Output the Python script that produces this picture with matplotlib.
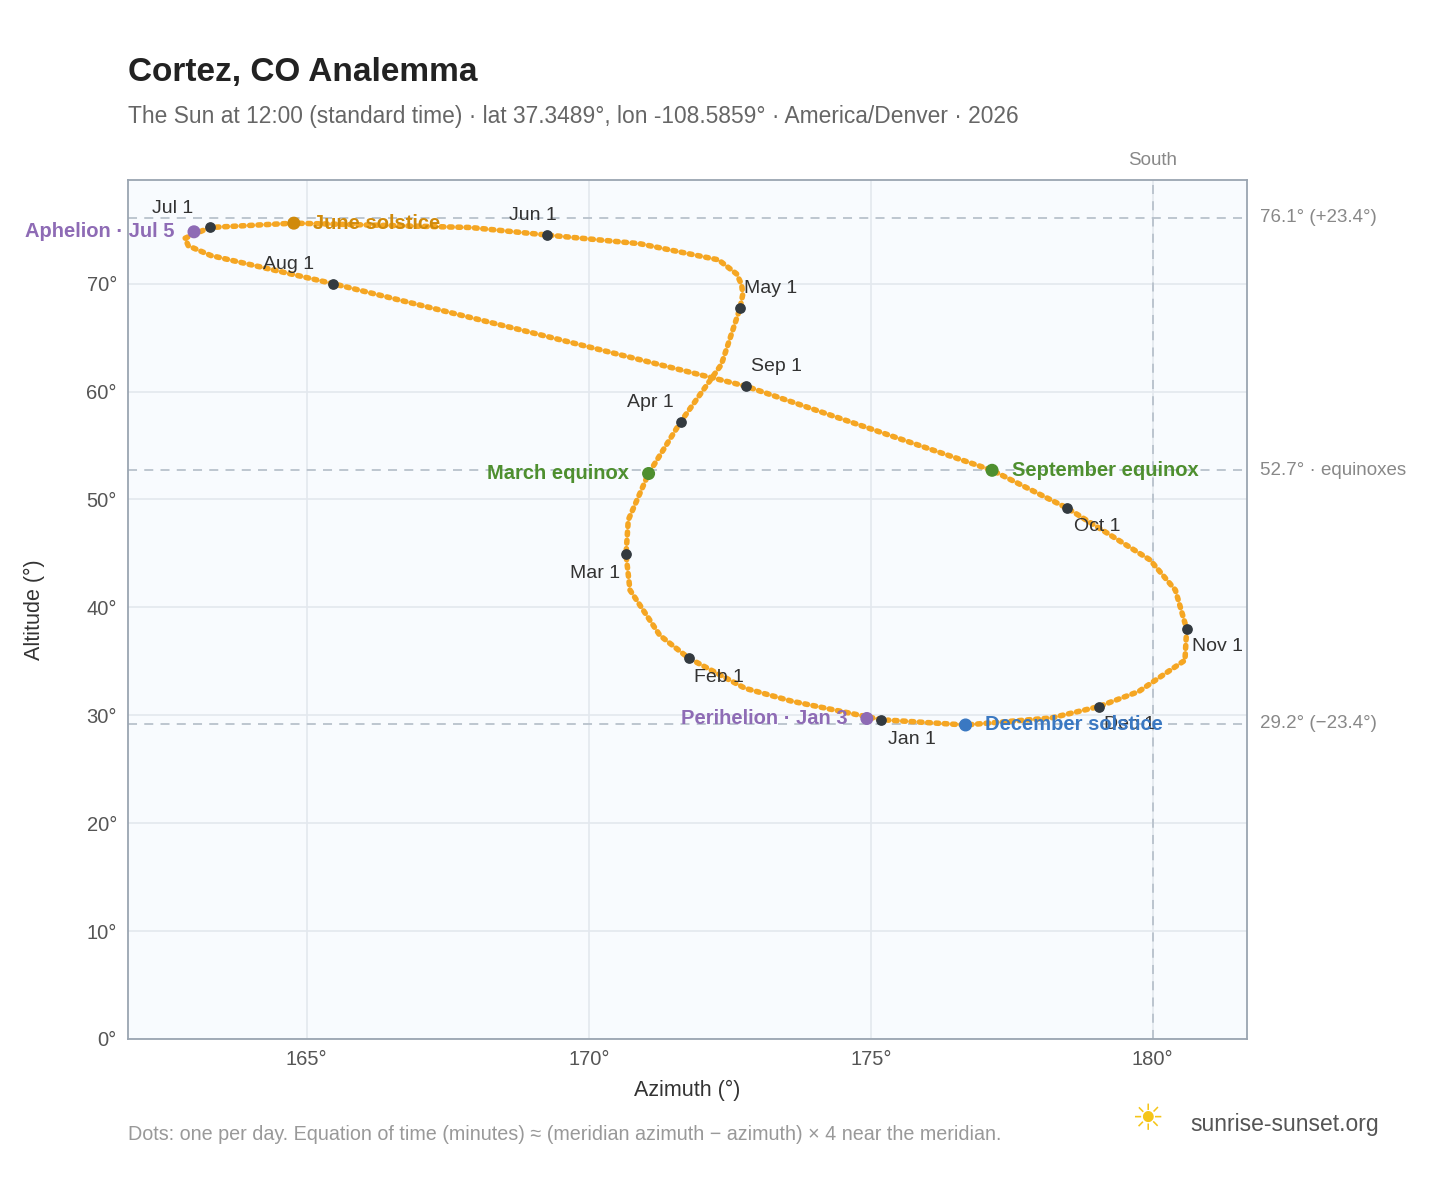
import matplotlib.pyplot as plt

plt.rcParams["font.family"] = ["Liberation Sans", "DejaVu Sans"]

# path of the sun at noon (day of year, azimuth, altitude)
path_day = [1, 15, 22, 32, 39, 51, 60, 69, 79, 91, 105, 121, 125, 128, 132, 137, 145, 152, 159,
            172, 182, 189, 192, 196, 213, 227, 244, 265, 274, 288, 295, 305, 312, 324, 335, 344,
            355, 365]
path_az = [175.18, 173.6, 172.77, 171.77, 171.26, 170.73, 170.66, 170.7, 171.06, 171.63, 172.35,
           172.68, 172.73, 172.71, 172.62, 172.3, 170.9, 169.26, 167.9, 164.77, 163.28, 162.84,
           162.9, 163.3, 165.46, 168.8, 172.78, 177.15, 178.48, 179.95, 180.4, 180.6, 180.57,
           179.75, 179.04, 178.2, 176.68, 175.3]
path_alt = [29.6, 31.3, 32.5, 35.3, 37.4, 41.6, 44.9, 48.1, 52.4, 57.2, 62.5, 67.7, 69.0, 69.9,
            70.9, 72.2, 73.7, 74.5, 75.2, 75.6, 75.2, 74.2, 73.5, 72.6, 70.0, 65.7, 60.5, 52.7,
            49.2, 44.4, 41.6, 38.0, 35.1, 32.2, 30.8, 29.75, 29.1, 29.55]

months = ["Jan 1", "Feb 1", "Mar 1", "Apr 1", "May 1", "Jun 1", "Jul 1", "Aug 1", "Sep 1",
          "Oct 1", "Nov 1", "Dec 1"]
month_az = [175.18, 171.77, 170.66, 171.63, 172.68, 169.26, 163.28, 165.46, 172.78, 178.48, 180.6, 179.04]
month_alt = [29.6, 35.3, 44.9, 57.2, 67.7, 74.5, 75.2, 70.0, 60.5, 49.2, 38.0, 30.8]
month_off = [(22, -14), (22, -14), (-22, -14), (-22, 14), (22, 14), (-10, 14), (-27, 14),
             (-32, 14), (22, 14), (22, -13), (22, -13), (22, -13)]

events = ["Aphelion · Jul 5", "June solstice", "March equinox", "September equinox",
          "Perihelion · Jan 3", "December solstice"]
event_az = [163.0, 164.77, 171.06, 177.15, 174.93, 176.68]
event_alt = [74.8, 75.6, 52.4, 52.7, 29.7, 29.1]
event_col = ["#8e6bb5", "#d08a0b", "#4e8f2f", "#4e8f2f", "#8e6bb5", "#3a78c2"]
event_side = ["left", "right", "left", "right", "left", "right"]

ref_alt = [76.1, 52.7, 29.2]
ref_lab = ["76.1° (+23.4°)", "52.7° · equinoxes", "29.2° (−23.4°)"]

fig = plt.figure(figsize=(14.48, 11.88), dpi=100)
ax = fig.add_axes([128 / 1448, 1 - 1039 / 1188, 1119 / 1448, 859 / 1188])
ax.set_facecolor("#f8fbfe")
ax.set_xlim(161.83, 181.67)
ax.set_ylim(0, 79.6)
ax.set_xticks([165, 170, 175, 180])
ax.set_xticklabels(["165°", "170°", "175°", "180°"])
ax.set_yticks(range(0, 80, 10))
ax.set_yticklabels([f"{v}°" for v in range(0, 80, 10)])
ax.grid(color="#e3e8ee", lw=1.2)
ax.set_axisbelow(True)
for s in ax.spines.values():
    s.set_color("#9aa5b1")
    s.set_linewidth(1.3)
ax.tick_params(colors="#555", labelsize=14.5, length=0, pad=8)
ax.set_xlabel("Azimuth (°)", fontsize=15.5, color="#333", labelpad=8)
ax.set_ylabel("Altitude (°)", fontsize=15.5, color="#333", labelpad=30)

for a, lab in zip(ref_alt, ref_lab):
    ax.axhline(a, color="#b8c2cc", ls=(0, (5, 4)), lw=1.3)
    ax.annotate(lab, (1, a), xycoords=("axes fraction", "data"), xytext=(9, 0),
                textcoords="offset points", va="center", fontsize=13.5, color="#888")
ax.axvline(180, color="#b8c2cc", ls=(0, (5, 4)), lw=1.3)
ax.text(180, 80.6, "South", ha="center", va="bottom", fontsize=13.5, color="#888")

ax.plot(path_az, path_alt, color="#f5a623", lw=4, ls=(0, (0.5, 1.0)), dash_capstyle="round")

ax.scatter(month_az, month_alt, s=45, color="#333a40", zorder=4)
for m, x, y, (dx, dy) in zip(months, month_az, month_alt, month_off):
    ax.annotate(m, (x, y), xytext=(dx, dy), textcoords="offset points",
                ha="center", va="center", fontsize=14, color="#333")

ax.scatter(event_az, event_alt, s=70, color=event_col, zorder=5)
for e, x, y, c, side in zip(events, event_az, event_alt, event_col, event_side):
    dx = -14 if side == "left" else 14
    ax.annotate(e, (x, y), xytext=(dx, 0), textcoords="offset points",
                ha="right" if side == "left" else "left",
                va="center", fontsize=14.5, fontweight="bold", color=c)

fig.text(128 / 1448, 1 - 72 / 1188, "Cortez, CO Analemma", fontsize=24, fontweight="bold",
         color="#222", va="center")
fig.text(128 / 1448, 1 - 116 / 1188,
         "The Sun at 12:00 (standard time) · lat 37.3489°, lon -108.5859° · America/Denver · 2026",
         fontsize=16.4, color="#666", va="center")
fig.text(128 / 1448, 1 - 1134 / 1188,
         "Dots: one per day. Equation of time (minutes) ≈ (meridian azimuth − azimuth) × 4 near the meridian.",
         fontsize=14.2, color="#999", va="center")
fig.text(1190 / 1448, 1 - 1125 / 1188, "sunrise-sunset.org", fontsize=16.5, color="#555", va="center")
fig.text(1147 / 1448, 1 - 1120 / 1188, "☀", fontsize=26, color="#f5c518", ha="center", va="center",
         family="DejaVu Sans")

fig.savefig("out.png", dpi=100)
